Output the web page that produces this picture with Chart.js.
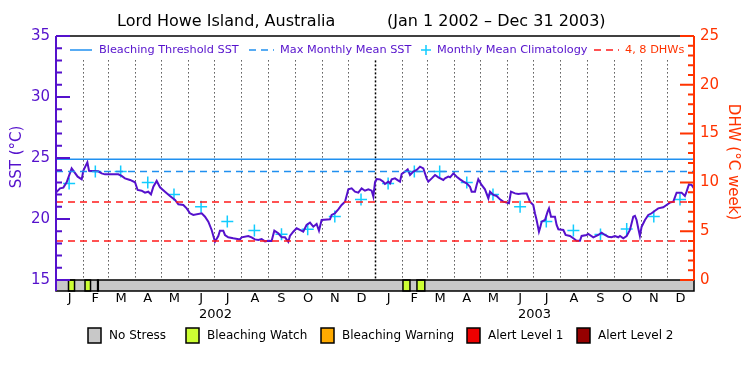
<!DOCTYPE html>
<html>
<head>
<meta charset="utf-8">
<script src="https://cdn.jsdelivr.net/npm/chart.js@4.4.1/dist/chart.umd.min.js"></script>
<style>
  html, body { margin: 0; padding: 0; background: #fff; }
  canvas { display: block; }
</style>
</head>
<body>
<canvas id="sst-chart" width="750" height="375"></canvas>
<script>
// days since Jan 1 2002 and the SST
const days = [0, 4.6, 8.4, 12.2, 17.9, 24.8, 29.4, 31.3, 35.9, 37.8, 48.4, 52.2, 56.1, 71.3, 75.1, 78.9,
  84.7, 90.4, 93.4, 98.0, 101.8, 105.6, 108.7, 111.4, 115.2, 119.0, 124.7, 130.4, 136.2, 140.0, 145.7,
  149.5, 153.3, 157.1, 166.7, 170.5, 174.3, 178.1, 181.9, 185.7, 187.6, 191.4, 193.3, 197.1, 202.8,
  210.4, 212.4, 220.0, 223.8, 227.6, 231.5, 235.3, 239.1, 242.9, 246.7, 249.8, 254.3, 258.2, 262.0,
  265.8, 267.7, 271.5, 275.3, 279.1, 282.9, 286.7, 290.6, 294.4, 298.2, 300.9, 303.9, 313.5, 315.4,
  319.2, 323.0, 326.8, 330.7, 334.5, 338.3, 342.1, 345.9, 349.7, 353.5, 357.4, 361.2, 363.1, 365.0,
  366.9, 370.7, 374.5, 376.4, 380.3, 382.2, 384.1, 387.9, 391.7, 393.6, 395.5, 399.3, 402.4, 405.1,
  408.9, 412.7, 416.5, 420.3, 424.1, 426.0, 429.9, 433.7, 437.5, 443.2, 445.1, 448.9, 450.9, 454.7,
  458.5, 462.3, 466.1, 469.9, 473.7, 475.6, 479.4, 481.3, 483.2, 487.0, 490.8, 494.7, 496.6, 500.4,
  504.2, 508.0, 511.8, 515.6, 518.3, 520.6, 525.2, 529.0, 534.7, 538.5, 542.3, 546.1, 548.0, 549.9,
  552.6, 553.8, 555.7, 559.5, 562.5, 564.1, 566.4, 570.9, 572.8, 574.8, 580.5, 583.1, 588.1, 591.9,
  595.7, 599.5, 601.4, 607.1, 609.0, 614.8, 620.5, 624.3, 628.1, 631.9, 635.7, 639.5, 643.4, 645.3,
  649.1, 652.9, 656.7, 660.5, 662.4, 664.3, 666.2, 668.1, 670.1, 673.9, 677.7, 681.5, 685.3, 689.1,
  694.8, 698.6, 702.4, 706.3, 710.1, 715.8, 719.6, 721.5, 724.2, 727.2, 730];
const sst = [22.16, 22.51, 22.57, 23.01, 24.15, 23.47, 23.25, 23.96, 24.64, 23.96, 23.91, 23.74, 23.66, 23.66, 23.53, 23.33,
  23.2, 23.01, 22.38, 22.32, 22.16, 22.24, 22.02, 22.65, 23.12, 22.6, 22.24, 21.89, 21.56, 21.2, 21.15,
  20.87, 20.47, 20.33, 20.47, 20.19, 19.78, 19.1, 18.14, 18.6, 19.04, 19.04, 18.69, 18.5, 18.42,
  18.33, 18.5, 18.61, 18.5, 18.33, 18.28, 18.36, 18.17, 18.22, 18.2, 19.04, 18.83, 18.5, 18.5,
  18.14, 18.61, 18.96, 19.24, 19.1, 18.96, 19.51, 19.7, 19.37, 19.59, 19.04, 19.92, 19.97, 20.33,
  20.47, 20.79, 21.15, 21.42, 22.43, 22.51, 22.24, 22.16, 22.51, 22.32, 22.43, 22.32, 21.83, 23.0,
  23.28, 23.25, 23.06, 22.87, 23.06, 22.92, 23.25, 23.33, 23.14, 23.06, 23.69, 23.88, 24.07, 23.61,
  23.88, 24.02, 24.29, 24.15, 23.33, 23.06, 23.33, 23.61, 23.42, 23.2, 23.33, 23.47, 23.42, 23.74,
  23.47, 23.25, 23.06, 22.92, 22.65, 22.24, 22.24, 22.79, 23.25, 22.79, 22.43, 21.69, 22.24, 21.97,
  21.89, 21.61, 21.42, 21.34, 21.29, 22.24, 22.1, 22.05, 22.1, 22.1, 21.42, 21.15, 20.47, 19.92,
  18.96, 19.24, 19.78, 19.92, 20.6, 20.87, 20.19, 20.19, 19.51, 19.16, 19.1, 18.69, 18.61, 18.42,
  18.22, 18.22, 18.61, 18.69, 18.77, 18.5, 18.69, 18.88, 18.69, 18.55, 18.5, 18.61, 18.5, 18.61,
  18.42, 18.61, 19.1, 20.19, 20.25, 19.92, 19.24, 18.61, 19.37, 19.92, 20.33, 20.47, 20.68, 20.87,
  20.96, 21.15, 21.34, 21.42, 22.16, 22.16, 21.89, 22.24, 22.84, 22.79, 22.51];

// monthly mean climatology (mid-month)
const climDays = [15, 45, 74, 105, 135, 166, 196, 227, 258, 288, 319, 349,
  380, 410, 439, 470, 500, 531, 561, 592, 623, 653, 684, 714];
const climSst = [22.9, 23.9, 23.9, 23.0, 22.0, 21.0, 19.8, 19.05, 18.75, 19.15, 20.2, 21.6,
  22.9, 23.9, 23.9, 23.0, 22.0, 21.0, 19.8, 19.05, 18.72, 19.18, 20.2, 21.6];

const thresholdSst = 24.9;
const mmmSst = 23.9;
const dhwLevels = [4, 8];

const monthStarts = [0, 31, 59, 90, 120, 151, 181, 212, 243, 273, 304, 334,
  365, 396, 424, 455, 485, 516, 546, 577, 608, 638, 669, 699, 730];
const monthLabels = ["J", "F", "M", "A", "M", "J", "J", "A", "S", "O", "N", "D",
  "J", "F", "M", "A", "M", "J", "J", "A", "S", "O", "N", "D"];
const yearLabels = ["2002", "2003"];

const sstTicks = [15, 20, 25, 30, 35];
const dhwTicks = [0, 5, 10, 15, 20, 25];

// stress strip periods (day ranges) and level index into stressNames
const stressStart = [14.3, 33.2, 47.6, 397, 413];
const stressEnd = [21.2, 39.5, 48.4, 405, 422];
const stressLevel = [1, 1, 1, 1, 1];
const stressNames = ["No Stress", "Bleaching Watch", "Bleaching Warning", "Alert Level 1", "Alert Level 2"];
const stressColors = ["#c8c8c8", "#ccff33", "#ffaa00", "#ee0000", "#960000"];

const PURPLE = "#5511cc";
const ORANGE = "#ff3300";
const BLUE = "#2090f0";
const CYAN = "#11ccff";
const RED = "#ff1a1a";
const FONT = "'DejaVu Sans', sans-serif";

const decorPlugin = {
  id: "decor",
  beforeDatasetsDraw(chart) {
    const {ctx, chartArea: a, scales: {x, y}} = chart;
    ctx.save();
    ctx.strokeStyle = "#000";
    monthStarts.slice(1, -1).forEach(d => {
      const px = Math.round(x.getPixelForValue(d)) + 0.5;
      const yearLine = d === 365;
      ctx.lineWidth = yearLine ? 1.5 : 1;
      ctx.setLineDash(yearLine ? [2, 2] : [1, 3]);
      ctx.beginPath();
      ctx.moveTo(px, y.getPixelForValue(33));
      ctx.lineTo(px, a.bottom);
      ctx.stroke();
    });
    ctx.restore();
  },
  afterDraw(chart) {
    const {ctx, chartArea: a, scales: {x, y, y2}} = chart;
    ctx.save();

    // stress strip
    const sTop = a.bottom, sH = 11;
    ctx.fillStyle = stressColors[0];
    ctx.fillRect(a.left, sTop, a.right - a.left, sH);
    ctx.lineWidth = 1.5;
    ctx.strokeStyle = "#000";
    stressStart.forEach((s, i) => {
      const x0 = x.getPixelForValue(s), x1 = x.getPixelForValue(stressEnd[i]);
      ctx.fillStyle = stressColors[stressLevel[i]];
      ctx.fillRect(x0, sTop, x1 - x0, sH);
      ctx.strokeRect(x0, sTop, x1 - x0, sH);
    });
    ctx.strokeRect(a.left, sTop, a.right - a.left, sH);

    // frame
    ctx.lineWidth = 1.5;
    ctx.beginPath();
    ctx.moveTo(a.left, a.top);
    ctx.lineTo(a.right, a.top);
    ctx.stroke();

    ctx.lineWidth = 2;
    ctx.strokeStyle = PURPLE;
    ctx.beginPath();
    ctx.moveTo(a.left, a.top);
    ctx.lineTo(a.left, sTop + sH);
    for (let v = 15; v <= 35; v++) {
      const py = y.getPixelForValue(v);
      ctx.moveTo(a.left, py);
      ctx.lineTo(a.left + (v % 5 === 0 ? 14 : 6), py);
    }
    ctx.stroke();

    ctx.strokeStyle = ORANGE;
    ctx.beginPath();
    ctx.moveTo(a.right, a.top);
    ctx.lineTo(a.right, a.bottom);
    for (let v = 0; v <= 25; v++) {
      const py = y2.getPixelForValue(v);
      ctx.moveTo(a.right, py);
      ctx.lineTo(a.right - (v % 5 === 0 ? 14 : 6), py);
    }
    ctx.stroke();

    // tick labels
    ctx.font = "15px " + FONT;
    ctx.textBaseline = "middle";
    ctx.fillStyle = PURPLE;
    ctx.textAlign = "right";
    sstTicks.forEach(v => ctx.fillText(String(v), a.left - 6, y.getPixelForValue(v)));
    ctx.fillStyle = ORANGE;
    ctx.textAlign = "left";
    dhwTicks.forEach(v => ctx.fillText(String(v), a.right + 6, y2.getPixelForValue(v)));

    // axis titles
    ctx.save();
    ctx.translate(17, 157);
    ctx.rotate(-Math.PI / 2);
    ctx.textAlign = "center";
    ctx.fillStyle = PURPLE;
    ctx.fillText("SST (°C)", 0, 0);
    ctx.restore();
    ctx.save();
    ctx.translate(733, 162);
    ctx.rotate(Math.PI / 2);
    ctx.textAlign = "center";
    ctx.fillStyle = ORANGE;
    ctx.fillText("DHW (°C week)", 0, 0);
    ctx.restore();

    // month and year labels
    ctx.fillStyle = "#000";
    ctx.textAlign = "center";
    ctx.font = "13px " + FONT;
    monthLabels.forEach((m, i) => {
      const mid = (monthStarts[i] + monthStarts[i + 1]) / 2;
      ctx.fillText(m, x.getPixelForValue(mid), 299);
    });
    yearLabels.forEach((yr, i) => {
      ctx.fillText(yr, x.getPixelForValue(182.5 + 365 * i), 315);
    });

    // title
    ctx.font = "16px " + FONT;
    ctx.textAlign = "left";
    ctx.fillText("Lord Howe Island, Australia", 117, 22);
    ctx.fillText("(Jan 1 2002 – Dec 31 2003)", 387, 22);

    // legend inside plot
    const ly = 50;
    ctx.font = "11.3px " + FONT;
    ctx.lineWidth = 1.5;
    ctx.strokeStyle = BLUE;
    ctx.beginPath();
    ctx.moveTo(70, ly); ctx.lineTo(92, ly);
    ctx.stroke();
    ctx.setLineDash([7, 5]);
    ctx.beginPath();
    ctx.moveTo(249, ly); ctx.lineTo(274, ly);
    ctx.stroke();
    ctx.strokeStyle = RED;
    ctx.beginPath();
    ctx.moveTo(594, ly); ctx.lineTo(619, ly);
    ctx.stroke();
    ctx.setLineDash([]);
    ctx.strokeStyle = CYAN;
    ctx.beginPath();
    ctx.moveTo(421, ly); ctx.lineTo(431, ly);
    ctx.moveTo(426, ly - 5); ctx.lineTo(426, ly + 5);
    ctx.stroke();
    ctx.fillStyle = PURPLE;
    ctx.fillText("Bleaching Threshold SST", 99, ly);
    ctx.fillText("Max Monthly Mean SST", 280, ly);
    ctx.fillText("Monthly Mean Climatology", 437, ly);
    ctx.fillStyle = ORANGE;
    ctx.fillText("4, 8 DHWs", 625, ly);

    // stress legend
    const boxX = [88, 186, 321, 467, 577];
    ctx.font = "12px " + FONT;
    ctx.lineWidth = 1.5;
    ctx.strokeStyle = "#000";
    stressNames.forEach((name, i) => {
      ctx.fillStyle = stressColors[i];
      ctx.fillRect(boxX[i], 328, 13, 15);
      ctx.strokeRect(boxX[i], 328, 13, 15);
      ctx.fillStyle = "#000";
      ctx.fillText(name, boxX[i] + 21, 336);
    });

    ctx.restore();
  }
};

const hLine = (v) => [{x: 0, y: v}, {x: 730, y: v}];

new Chart(document.getElementById("sst-chart"), {
  type: "line",
  data: {
    datasets: [
      {
        label: "Bleaching Threshold SST",
        data: hLine(thresholdSst),
        borderColor: BLUE, borderWidth: 1.5, pointRadius: 0
      },
      {
        label: "Max Monthly Mean SST",
        data: hLine(mmmSst),
        borderColor: BLUE, borderWidth: 1.5, borderDash: [7, 5], pointRadius: 0
      },
      ...dhwLevels.map(v => ({
        label: v + " DHW",
        data: hLine(v),
        yAxisID: "y2",
        borderColor: RED, borderWidth: 1.5, borderDash: [7, 5], pointRadius: 0
      })),
      {
        label: "SST",
        data: days.map((d, i) => ({x: d, y: sst[i]})),
        borderColor: PURPLE, borderWidth: 2, pointRadius: 0, tension: 0
      },
      {
        label: "Monthly Mean Climatology",
        data: climDays.map((d, i) => ({x: d, y: climSst[i]})),
        showLine: false,
        pointStyle: "cross", pointRadius: 6,
        borderColor: CYAN, pointBorderWidth: 1.5
      }
    ]
  },
  options: {
    responsive: false,
    animation: false,
    devicePixelRatio: 1,
    layout: {padding: {left: 56, right: 56, top: 36, bottom: 95}},
    scales: {
      x: {type: "linear", min: 0, max: 730, display: false},
      y: {min: 15, max: 35, display: false},
      y2: {min: 0, max: 25, display: false, position: "right"}
    },
    plugins: {
      legend: {display: false},
      tooltip: {enabled: false}
    }
  },
  plugins: [decorPlugin]
});
</script>
</body>
</html>
